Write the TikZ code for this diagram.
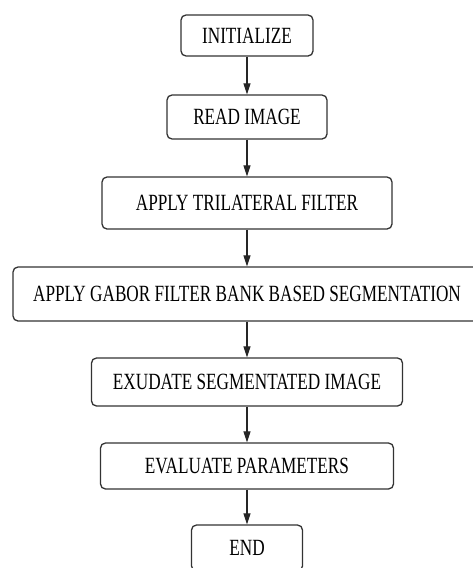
\documentclass[tikz,border=0pt]{standalone}
\usepackage{fontspec}
\setmainfont{Liberation Serif}
\usetikzlibrary{arrows.meta}
\newcommand{\steptext}[1]{\scalebox{1}[1.35]{#1}}

\begin{document}
\begin{tikzpicture}[x=1pt,y=-1pt,>={Triangle[width=7pt,length=11pt]},
  stepbox/.style={draw=black!80,line width=1.3pt,rounded corners=5pt,
    fill=white,inner sep=0pt,font=\fontsize{17.2}{19}\selectfont},
  flow/.style={->,line width=1.1pt,black!85}]
  \useasboundingbox (0,0) rectangle (473,568);
  % steps of the method
  \node[stepbox,minimum width=132,minimum height=41] (init) at (247,35.5) {\steptext{INITIALIZE}};
  \node[stepbox,minimum width=160,minimum height=44] (read) at (247,117) {\steptext{READ IMAGE}};
  \node[stepbox,minimum width=290,minimum height=52] (tril) at (247,203) {\steptext{APPLY TRILATERAL FILTER}};
  \node[stepbox,minimum width=468,minimum height=54] (gabor) at (247,294) {\steptext{APPLY GABOR FILTER BANK BASED SEGMENTATION}};
  \node[stepbox,minimum width=311,minimum height=48] (exud) at (247,382) {\steptext{EXUDATE SEGMENTATED IMAGE}};
  \node[stepbox,minimum width=293,minimum height=46] (eval) at (247,466) {\steptext{EVALUATE PARAMETERS}};
  \node[stepbox,minimum width=111,minimum height=46] (end) at (247,548) {\steptext{END}};
  % connectors
  \draw[flow] (init.south) -- (read.north);
  \draw[flow] (read.south) -- (tril.north);
  \draw[flow] (tril.south) -- (gabor.north);
  \draw[flow] (gabor.south) -- (exud.north);
  \draw[flow] (exud.south) -- (eval.north);
  \draw[flow] (eval.south) -- (end.north);
\end{tikzpicture}
\end{document}
